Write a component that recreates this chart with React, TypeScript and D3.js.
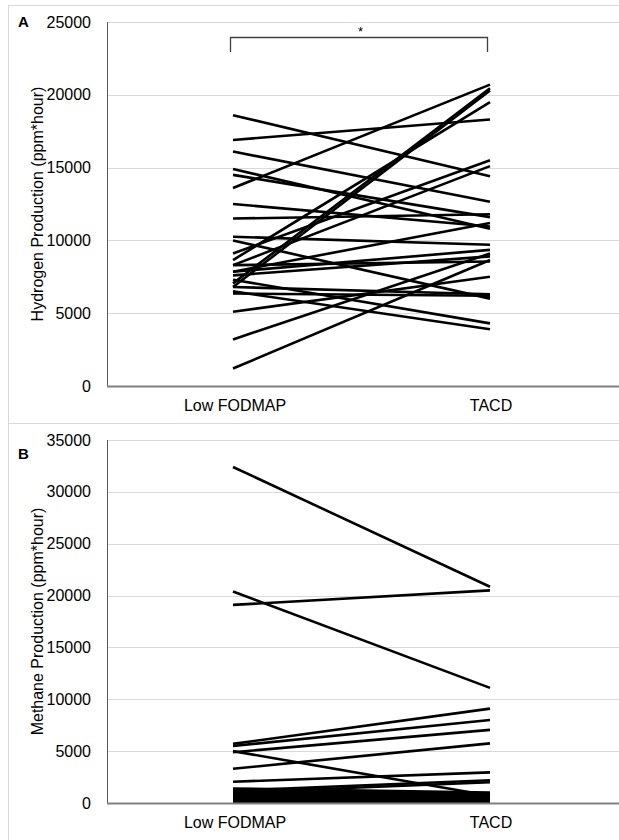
import React from "react";
import * as d3 from "d3";

const categories = ["Low FODMAP", "TACD"];

// Panel A: hydrogen (paired per subject)
const hydrogenLow = [18600, 16900, 16100, 14900, 14500, 13600, 12500, 11500, 10250, 10000, 9100, 8650, 8300, 8300, 7850, 7850, 7600, 7300, 7050, 6800, 6800, 6500, 6350, 5100, 3200, 1200];
const hydrogenTacd = [14400, 18300, 12660, 10800, 11600, 20700, 10950, 11800, 9700, 6000, 15500, 19500, 15100, 8550, 11200, 9350, 8900, 4300, 20450, 20300, 6300, 3900, 6200, 7500, 9100, 8650];
const hydrogenTicks = [0, 5000, 10000, 15000, 20000, 25000];

// Panel B: methane (paired per subject)
const methaneLow = [32400, 20400, 19100, 5700, 5500, 4900, 5000, 3300, 2050, 1200, 1000, 1400, 1250, 1100, 950, 800, 650, 500, 350, 200, 100, 50];
const methaneTacd = [20850, 11100, 20500, 9100, 8000, 7050, 700, 5750, 2950, 2200, 2000, 1000, 900, 800, 700, 600, 500, 400, 300, 200, 100, 50];
const methaneTicks = [0, 5000, 10000, 15000, 20000, 25000, 30000, 35000];

const FONT = "Liberation Sans, Arial, sans-serif";

type PanelProps = {
  letter: string;
  letterY: number;
  title: string;
  low: number[];
  tacd: number[];
  ticks: number[];
  yTop: number;
  yBottom: number;
  frameTop: number;
  frameBottom: number;
  bracket?: boolean;
};

function Panel(p: PanelProps) {
  const x = d3.scaleBand<string>().domain(categories).range([107, 619]).padding(0);
  const y = d3.scaleLinear().domain([0, d3.max(p.ticks) as number]).range([p.yBottom, p.yTop]);
  const cx = (c: string) => (x(c) as number) + x.bandwidth() / 2;
  const x0 = cx(categories[0]) - 2;
  const x1 = cx(categories[1]) - 1;
  const line = d3.line<[number, number]>().x((d) => d[0]).y((d) => d[1]);
  const midY = (p.yTop + p.yBottom) / 2;
  return (
    <g>
      <rect x={8.5} y={p.frameTop + 0.5} width={640} height={p.frameBottom - p.frameTop} fill="#fff" stroke="#d9d9d9" strokeWidth={1} />
      {p.ticks.map((t) => (
        <g key={t}>
          {t > 0 && <line x1={107} x2={619} y1={Math.round(y(t)) + 0.5} y2={Math.round(y(t)) + 0.5} stroke="#d9d9d9" strokeWidth={1} />}
          <text x={91} y={y(t) + 5.5} textAnchor="end" fontFamily={FONT} fontSize={16} fill="#000">{t}</text>
        </g>
      ))}
      <line x1={107.5} x2={107.5} y1={p.yTop} y2={p.yBottom} stroke="#595959" strokeWidth={1} />
      {p.low.map((v, i) => (
        <path key={i} d={line([[x0, y(v)], [x1, y(p.tacd[i])]]) as string} stroke="#000" strokeWidth={2.6} fill="none" />
      ))}
      <line x1={107} x2={619} y1={p.yBottom + 0.5} y2={p.yBottom + 0.5} stroke="#808080" strokeWidth={2} />
      {categories.map((c) => (
        <text key={c} x={cx(c)} y={p.yBottom + 25} textAnchor="middle" fontFamily={FONT} fontSize={16} fill="#000">{c}</text>
      ))}
      <text transform={`translate(43,${midY}) rotate(-90)`} textAnchor="middle" fontFamily={FONT} fontSize={16} fill="#000">{p.title}</text>
      <text x={18} y={p.letterY} fontFamily={FONT} fontSize={15} fontWeight="bold" fill="#000">{p.letter}</text>
      {p.bracket && (
        <g>
          <path d={`M${x0 - 2.5},52 V37.5 H${x1 - 2.5} V52`} stroke="#404040" strokeWidth={1.3} fill="none" />
          <text x={(x0 + x1) / 2 - 1} y={36} textAnchor="middle" fontFamily={FONT} fontSize={13} fill="#000">*</text>
        </g>
      )}
    </g>
  );
}

export default function App() {
  return (
    <svg width={619} height={840} style={{ position: "absolute", left: 0, top: 0, display: "block", background: "#fff" }}>
      <Panel letter="A" letterY={27} title="Hydrogen Production (ppm*hour)" low={hydrogenLow} tacd={hydrogenTacd} ticks={hydrogenTicks} yTop={22} yBottom={386} frameTop={5} frameBottom={423} bracket />
      <Panel letter="B" letterY={459} title="Methane Production (ppm*hour)" low={methaneLow} tacd={methaneTacd} ticks={methaneTicks} yTop={440} yBottom={803} frameTop={423} frameBottom={850} />
    </svg>
  );
}
